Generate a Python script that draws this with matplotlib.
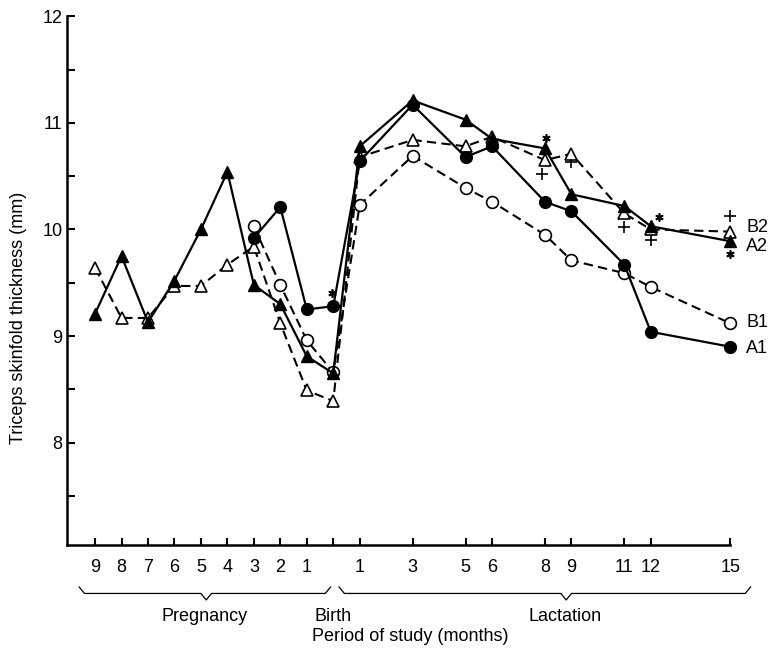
import matplotlib
matplotlib.use("Agg")
import matplotlib.pyplot as plt
import matplotlib.transforms as mtransforms

plt.rcParams["font.family"] = ["Liberation Sans", "DejaVu Sans"]

# period index: pregnancy months are negative, birth is 0, lactation months positive
x_full = [-9, -8, -7, -6, -5, -4, -3, -2, -1, 0, 1, 3, 5, 6, 8, 9, 11, 12, 15]
x_late = [-3, -2, -1, 0, 1, 3, 5, 6, 8, 9, 11, 12, 15]

a2 = [9.21, 9.75, 9.13, 9.52, 10.0, 10.54, 9.48, 9.30, 8.81, 8.65,
      10.78, 11.21, 11.03, 10.85, 10.76, 10.33, 10.22, 10.03, 9.89]
b2 = [9.64, 9.17, 9.17, 9.47, 9.47, 9.67, 9.84, 9.12, 8.49, 8.39,
      10.68, 10.84, 10.78, 10.87, 10.65, 10.71, 10.15, 10.0, 9.98]
a1 = [9.92, 10.21, 9.25, 9.28, 10.64, 11.17, 10.68, 10.78, 10.26, 10.17, 9.67, 9.04, 8.90]
b1 = [10.03, 9.48, 8.96, 8.66, 10.23, 10.69, 10.39, 10.26, 9.95, 9.71, 9.59, 9.46, 9.12]

star_x = [-0.05, 8.05, 12.3, 15.0]
star_y = [9.40, 10.86, 10.12, 9.77]
plus_x = [7.9, 9.0, 11.0, 12.0, 15.0]
plus_y = [10.52, 10.63, 10.02, 9.90, 10.13]

tick_pos = [-9, -8, -7, -6, -5, -4, -3, -2, -1, 0, 1, 3, 5, 6, 8, 9, 11, 12, 15]
tick_lab = ["9", "8", "7", "6", "5", "4", "3", "2", "1", "", "1", "3", "5", "6", "8", "9", "11", "12", "15"]

end_labels = ["B2", "A2", "B1", "A1"]
end_label_y = [10.02, 9.84, 9.13, 8.88]

fig = plt.figure(figsize=(7.76, 6.5), dpi=100)
ax = fig.add_axes([0.086, 0.1615, 0.855, 0.8135])

dash = (0, (4.5, 2.5))
ax.plot(x_full, b2, color="black", lw=1.5, linestyle=dash, marker="^", markersize=9,
        markerfacecolor="white", markeredgecolor="black", markeredgewidth=1.2, clip_on=False, zorder=3)
ax.plot(x_late, b1, color="black", lw=1.5, linestyle=dash, marker="o", markersize=8.5,
        markerfacecolor="white", markeredgecolor="black", markeredgewidth=1.2, clip_on=False, zorder=3)
ax.plot(x_full, a2, color="black", lw=1.6, marker="^", markersize=9,
        markerfacecolor="black", clip_on=False, zorder=4)
ax.plot(x_late, a1, color="black", lw=1.6, marker="o", markersize=8.5,
        markerfacecolor="black", clip_on=False, zorder=4)

ax.plot(star_x, star_y, linestyle="none", marker=(6, 2, 0), markersize=6, color="black",
        markeredgewidth=1.2, clip_on=False)
ax.plot(plus_x, plus_y, linestyle="none", marker="+", markersize=8, color="black",
        markeredgewidth=1.2, clip_on=False)

for lab, yv in zip(end_labels, end_label_y):
    ax.text(15.6, yv, lab, fontsize=13, va="center", ha="left")

ax.set_xlim(-10.07, 15)
ax.set_ylim(7.04, 12)
ax.spines["top"].set_visible(False)
ax.spines["right"].set_visible(False)
ax.spines["left"].set_linewidth(1.8)
ax.spines["bottom"].set_linewidth(1.8)

ax.set_xticks(tick_pos)
ax.set_xticklabels(tick_lab)
ax.set_yticks([8, 9, 10, 11, 12])
ax.set_yticks([7.5, 8.5, 9.5, 10.5, 11.5], minor=True)
ax.tick_params(axis="x", direction="in", length=5, width=1.5, labelsize=13, pad=10)
ax.tick_params(axis="y", which="both", direction="in", length=6, width=1.5, labelsize=13, pad=3)

ax.set_ylabel("Triceps skinfold thickness (mm)", fontsize=13)
ax.yaxis.set_label_coords(-0.06, 0.43)

# braces under the axis
trans = mtransforms.blended_transform_factory(ax.transData, fig.transFigure)
for x0, tip, x1 in [(-9.6, -4.8, -0.1), (0.22, 8.8, 15.77)]:
    bx = [x0, x0 + 0.2, tip - 0.2, tip, tip + 0.2, x1 - 0.2, x1]
    by = [0.097, 0.087, 0.087, 0.077, 0.087, 0.087, 0.097]
    ax.plot(bx, by, color="black", lw=0.9, transform=trans, clip_on=False)

ax.text(-4.85, 0.052, "Pregnancy", fontsize=13, ha="center", va="center", transform=trans)
ax.text(0.0, 0.052, "Birth", fontsize=13, ha="center", va="center", transform=trans)
ax.text(8.76, 0.052, "Lactation", fontsize=13, ha="center", va="center", transform=trans)
ax.text(2.9, 0.021, "Period of study (months)", fontsize=13, ha="center", va="center", transform=trans)

fig.savefig("out.png", dpi=100)
